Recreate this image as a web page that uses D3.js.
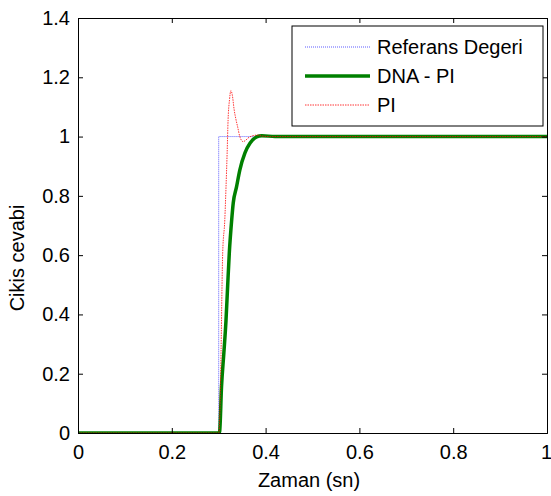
<!DOCTYPE html>
<html>
<head>
<meta charset="utf-8">
<script src="https://cdn.jsdelivr.net/npm/d3@7"></script>
<style>
  body { margin: 0; background: #fff; }
  svg text { font-family: "Liberation Sans", Arial, sans-serif; font-size: 20px; fill: #000; }
</style>
</head>
<body>
<svg id="chart" width="551" height="496"></svg>
<script>
// time (s) / output values
var refT   = [0, 0.3, 0.3, 1];
var refY   = [0, 0,   1,   1];

var dnaT = [0, 0.3, 0.302, 0.306, 0.311, 0.3156, 0.319, 0.3226, 0.3277, 0.331, 0.338, 0.345, 0.356, 0.367, 0.381, 0.392, 0.42, 1];
var dnaY = [0, 0,   0.005, 0.156, 0.27,  0.381,  0.493, 0.607,  0.719,  0.776, 0.83,  0.887, 0.945, 0.978, 0.999, 1.003, 1.0,  1];

var piT = [0, 0.3, 0.301, 0.305, 0.307, 0.3085, 0.313, 0.3156, 0.318, 0.320, 0.323, 0.326, 0.329, 0.333, 0.337, 0.3405, 0.345, 0.352, 0.358, 0.3625, 0.371, 0.382, 0.392, 0.41, 1];
var piY = [0, 0,   0.01,  0.27,  0.49,  0.607,  0.719, 0.83,   0.945, 1.056, 1.124, 1.155, 1.14,  1.09,  1.056, 1.032,  1.0,   0.983, 0.988, 0.995,  1.002, 1.005, 1.002, 1.0,  1];

var xTicks = [0, 0.2, 0.4, 0.6, 0.8, 1];
var yTicks = [0, 0.2, 0.4, 0.6, 0.8, 1, 1.2, 1.4];
var legendNames = ["Referans Degeri", "DNA - PI", "PI"];

var svg = d3.select("#chart");
var L = 78, R = 547, T = 18, B = 433;

var x = d3.scaleLinear().domain([0, 1]).range([L, R]);
var y = d3.scaleLinear().domain([0, 1.4]).range([B, T]);

// series
var series = [
  {t: refT, v: refY, color: "#3333ff", w: 0.8, dash: "1,1"},
  {t: dnaT, v: dnaY, color: "#008000", w: 3.5, dash: null},
  {t: piT,  v: piY,  color: "#ff0000", w: 0.8, dash: "1.5,1"}
];

var line = d3.line().x(function(d){ return x(d[0]); }).y(function(d){ return y(d[1]); })
  .curve(d3.curveMonotoneX);

svg.append("clipPath").attr("id", "clp").append("rect")
  .attr("x", L).attr("y", T).attr("width", R - L).attr("height", B - T);

var plot = svg.append("g").attr("clip-path", "url(#clp)");
series.forEach(function(s, i){
  var ln = i == 0 ? d3.line().x(function(d){ return x(d[0]); }).y(function(d){ return y(d[1]); }) : line;
  plot.append("path")
    .attr("d", ln(d3.zip(s.t, s.v)))
    .attr("fill", "none")
    .attr("stroke", s.color)
    .attr("stroke-width", s.w)
    .attr("stroke-dasharray", s.dash);
});

// axes, MATLAB style box with inward ticks
var tk = 5;
svg.append("g").attr("transform", "translate(0," + B + ")")
  .call(d3.axisBottom(x).tickValues(xTicks).tickSize(-tk).tickPadding(tk + 7).tickFormat(d3.format("")));
svg.append("g").attr("transform", "translate(0," + T + ")")
  .call(d3.axisTop(x).tickValues(xTicks).tickSize(-tk).tickFormat(""));
svg.append("g").attr("transform", "translate(" + L + ",0)")
  .call(d3.axisLeft(y).tickValues(yTicks).tickSize(-tk).tickPadding(tk + 3).tickFormat(d3.format("")));
svg.append("g").attr("transform", "translate(" + R + ",0)")
  .call(d3.axisRight(y).tickValues(yTicks).tickSize(-tk).tickFormat(""));

svg.selectAll(".domain").attr("stroke", "#000");
svg.selectAll(".tick line").attr("stroke", "#000");
svg.selectAll(".tick text").style("font-size", "20px").style("font-family", "'Liberation Sans', Arial, sans-serif");
// last x label sits at the window edge, keep it inside
svg.selectAll(".tick text").filter(function(d){ return d === 1 && this.getAttribute("y") > 0; })
  .attr("dx", -1);

// axis labels
svg.append("text").attr("x", 309).attr("y", 487)
  .attr("text-anchor", "middle").text("Zaman (sn)");
svg.append("text").attr("transform", "translate(24,258) rotate(-90)")
  .attr("text-anchor", "middle").text("Cikis cevabi");

// legend
var lg = svg.append("g");
lg.append("rect").attr("x", 292).attr("y", 26).attr("width", 251).attr("height", 100)
  .attr("fill", "#fff").attr("stroke", "#000");
legendNames.forEach(function(name, i){
  var yy = 47 + i * 29;
  var s = series[i];
  lg.append("line").attr("x1", 305).attr("x2", 370).attr("y1", yy).attr("y2", yy)
    .attr("stroke", s.color).attr("stroke-width", s.w).attr("stroke-dasharray", s.dash);
  lg.append("text").attr("x", 377).attr("y", yy + 7).text(name);
});
</script>
</body>
</html>
